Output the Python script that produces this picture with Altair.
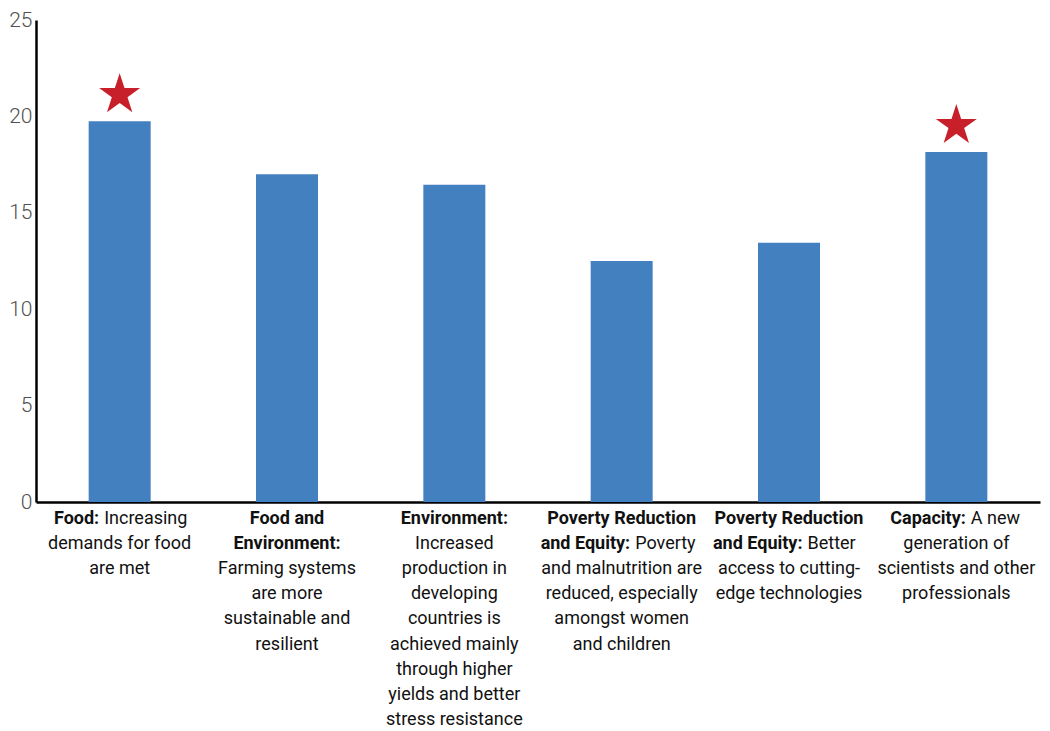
import math
import altair as alt
import pandas as pd

categories = ["Food", "Food and Environment", "Environment",
              "Poverty Reduction 1", "Poverty Reduction 2", "Capacity"]
values = [19.75, 17.0, 16.45, 12.5, 13.45, 18.15]
starred = ["Food", "Capacity"]

# label lines per category: (bold part, regular part, split offset from bar centre)
label_lines = {
    "Food": [("Food:", "Increasing", -18), ("", "demands for food", 0), ("", "are met", 0)],
    "Food and Environment": [("Food and", "", 0), ("Environment:", "", 0),
                             ("", "Farming systems", 0), ("", "are more", 0),
                             ("", "sustainable and", 0), ("", "resilient", 0)],
    "Environment": [("Environment:", "", 0), ("", "Increased", 0), ("", "production in", 0),
                    ("", "developing", 0), ("", "countries is", 0), ("", "achieved mainly", 0),
                    ("", "through higher", 0), ("", "yields and better", 0),
                    ("", "stress resistance", 0)],
    "Poverty Reduction 1": [("Poverty Reduction", "", 0), ("and Equity:", "Poverty", 11),
                            ("", "and malnutrition are", 0), ("", "reduced, especially", 0),
                            ("", "amongst women", 0), ("", "and children", 0)],
    "Poverty Reduction 2": [("Poverty Reduction", "", 0), ("and Equity:", "Better", 16),
                            ("", "access to cutting-", 0), ("", "edge technologies", 0)],
    "Capacity": [("Capacity:", "A new", 12), ("", "generation of", 0),
                 ("", "scientists and other", 0), ("", "professionals", 0)],
}

PLOT_W, PLOT_H = 1004, 482
YMAX = 25
PX_PER_UNIT = PLOT_H / YMAX
LINE_H = 25.1
FIRST = 17
FONT = "Roboto"
FS = 18

# five-pointed star outline (unit box) for the symbol shape
pts = []
for k in range(10):
    r = 1.0 if k % 2 == 0 else 0.382
    a = math.radians(-90 + 36 * k)
    pts.append(f"{r * math.cos(a):.4f},{r * math.sin(a):.4f}")
STAR_PATH = "M" + "L".join(pts) + "Z"

bars = pd.DataFrame({"cat": categories, "value": values})
stars = bars[bars["cat"].isin(starred)]

center_rows, mixed_rows = [], []
for cat, lines in label_lines.items():
    for i, (b, r, split) in enumerate(lines):
        yv = -(FIRST + i * LINE_H) / PX_PER_UNIT
        if b and r:
            mixed_rows.append((cat, b, r, split, yv))
        else:
            center_rows.append(dict(cat=cat, text=b or r, bold=bool(b), y=yv))
centers = pd.DataFrame(center_rows)

yscale = alt.Scale(domain=[0, YMAX], nice=False)
xenc = alt.X("cat:N", sort=categories,
             scale=alt.Scale(paddingInner=0, paddingOuter=0),
             axis=alt.Axis(labels=False, ticks=False, title=None, domainColor="black",
                           domainWidth=2.5, orient="bottom"))

bar_layer = alt.Chart(bars).mark_bar(size=62, color="#4380C0").encode(
    x=xenc,
    y=alt.Y("value:Q", scale=yscale,
            axis=alt.Axis(values=[0, 5, 10, 15, 20, 25], grid=False, ticks=False,
                          title=None, domainColor="black", domainWidth=2.5,
                          labelColor="#505050", labelFontSize=21, labelFont="Roboto",
                          labelFontWeight=300, labelPadding=4)),
)

star_layer = alt.Chart(stars).transform_calculate(
    sy=f"datum.value + {26.5 / PX_PER_UNIT}"
).mark_point(shape=STAR_PATH, filled=True, size=1860, color="#C8202A", opacity=1).encode(
    x=alt.X("cat:N", sort=categories),
    y=alt.Y("sy:Q"),
)

layers = [bar_layer, star_layer]
for bold in (True, False):
    d = centers[centers["bold"] == bold]
    layers.append(alt.Chart(d).mark_text(
        align="center", baseline="middle", font=FONT, fontSize=FS,
        fontWeight="bold" if bold else "normal", color="#111111",
    ).encode(x=alt.X("cat:N", sort=categories), y=alt.Y("y:Q"), text="text:N"))

for cat, b, r, split, yv in mixed_rows:
    d = pd.DataFrame([dict(cat=cat, b=b, r=r, y=yv)])
    base = alt.Chart(d).encode(x=alt.X("cat:N", sort=categories), y=alt.Y("y:Q"))
    layers.append(base.mark_text(align="right", baseline="middle", font=FONT, fontSize=FS,
                                 fontWeight="bold", color="#111111", dx=split - 2.5)
                  .encode(text="b:N"))
    layers.append(base.mark_text(align="left", baseline="middle", font=FONT, fontSize=FS,
                                 fontWeight="normal", color="#111111", dx=split + 2.5)
                  .encode(text="r:N"))

chart = alt.layer(*layers).properties(
    width=PLOT_W, height=PLOT_H,
    autosize=alt.AutoSizeParams(type="none"),
    padding={"left": 28, "top": 12, "right": 2, "bottom": 229},
).configure_view(stroke=None)

chart.save("out.html", embed_options={"renderer": "svg", "actions": False})
